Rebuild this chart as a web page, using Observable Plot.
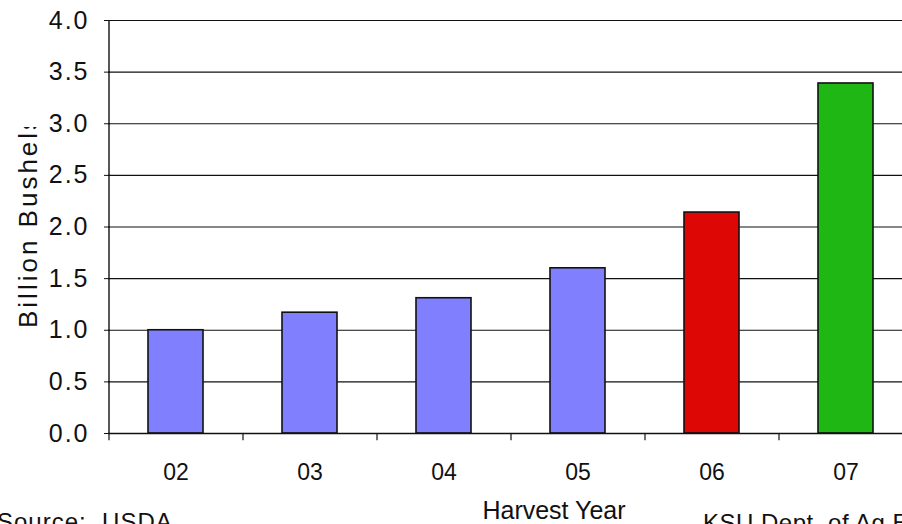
<!DOCTYPE html>
<html>
<head>
<meta charset="utf-8">
<script src="https://cdn.jsdelivr.net/npm/d3@7"></script>
<script src="https://cdn.jsdelivr.net/npm/@observablehq/plot@0.6"></script>
<style>
  html, body { margin: 0; padding: 0; background: #fff; overflow: hidden; }
  #chart svg { display: block; }
</style>
</head>
<body>
<div id="chart"></div>
<script>
const years = ["02", "03", "04", "05", "06", "07"];
const bushels = [1.0, 1.17, 1.31, 1.6, 2.14, 3.39];
const barColors = ["#8080ff", "#8080ff", "#8080ff", "#8080ff", "#dd0806", "#1fb714"];
const yTicks = [0, 0.5, 1.0, 1.5, 2.0, 2.5, 3.0, 3.5, 4.0];
const yLabel = "Billion Bushels";
const xLabel = "Harvest Year";
const sourceText = "Source:  USDA";
const creditText = "KSU Dept. of Ag Econ";

const data = years.map((y, i) => ({year: y, value: bushels[i], color: barColors[i]}));

const W = 902, H = 524;
const mLeft = 108, mTop = 20, plotBottom = 433;
const xRange = [mLeft, 912];
const step = (xRange[1] - xRange[0]) / years.length;

const numFont = "'Liberation Sans', Arial, sans-serif";

const chart = Plot.plot({
  width: W,
  height: H,
  marginLeft: mLeft,
  marginRight: 0,
  marginTop: mTop,
  marginBottom: H - plotBottom,
  style: {fontFamily: numFont, fontSize: "24px", color: "#111", background: "#fff"},
  x: {domain: years, range: xRange, paddingInner: 0.59, paddingOuter: 0.295, align: 0.5},
  y: {domain: [0, 4], ticks: yTicks},
  marks: [
    Plot.gridY(yTicks, {stroke: "#111", strokeOpacity: 1, strokeWidth: 1.2}),
    Plot.barY(data, {x: "year", y: "value", fill: "color", stroke: "#111", strokeWidth: 1.6}),
    Plot.ruleX(years, {x: d => d, dx: -step / 2, y1: -0.07, y2: 0, stroke: "#111", strokeWidth: 1.2, clip: false}),
    Plot.ruleX([years[0]], {x: d => d, dx: -step / 2, y1: 0, y2: 4, stroke: "#111", strokeWidth: 1.4}),
    Plot.ruleY([0], {stroke: "#111", strokeWidth: 1.4}),
    Plot.axisY(yTicks, {tickSize: 6, tickPadding: 15, tickFormat: d3.format(".1f"), label: null, stroke: "#111", fontSize: 25, dx: 2}),
    Plot.axisX({tickSize: 0, tickPadding: 30, label: null, fontSize: 23})
  ]
});

document.getElementById("chart").appendChild(chart);

const svg = d3.select(chart);
svg.selectAll("g[aria-label='y-axis tick label'] text").attr("letter-spacing", "2px");

const defs = svg.append("defs");
defs.append("clipPath").attr("id", "ylabclip")
  .append("rect").attr("x", 0).attr("y", 127).attr("width", 60).attr("height", 300);

svg.append("g").attr("clip-path", "url(#ylabclip)")
  .append("text")
  .attr("transform", "translate(37, 328) rotate(-90)")
  .attr("text-anchor", "start")
  .attr("font-family", numFont)
  .attr("font-size", 26)
  .attr("letter-spacing", "3px")
  .attr("fill", "#111")
  .text(yLabel);

svg.append("text")
  .attr("x", 554).attr("y", 519)
  .attr("text-anchor", "middle")
  .attr("font-family", numFont)
  .attr("font-size", 25)
  .attr("fill", "#111")
  .text(xLabel);

svg.append("text")
  .attr("x", -3).attr("y", 530)
  .attr("text-anchor", "start")
  .attr("font-family", numFont)
  .attr("font-size", 24)
  .attr("letter-spacing", "1px")
  .attr("fill", "#111")
  .style("white-space", "pre")
  .text(sourceText);

svg.append("text")
  .attr("x", 703).attr("y", 531)
  .attr("text-anchor", "start")
  .attr("font-family", numFont)
  .attr("font-size", 24)
  .attr("letter-spacing", "0.5px")
  .attr("fill", "#111")
  .text(creditText);
</script>
</body>
</html>
